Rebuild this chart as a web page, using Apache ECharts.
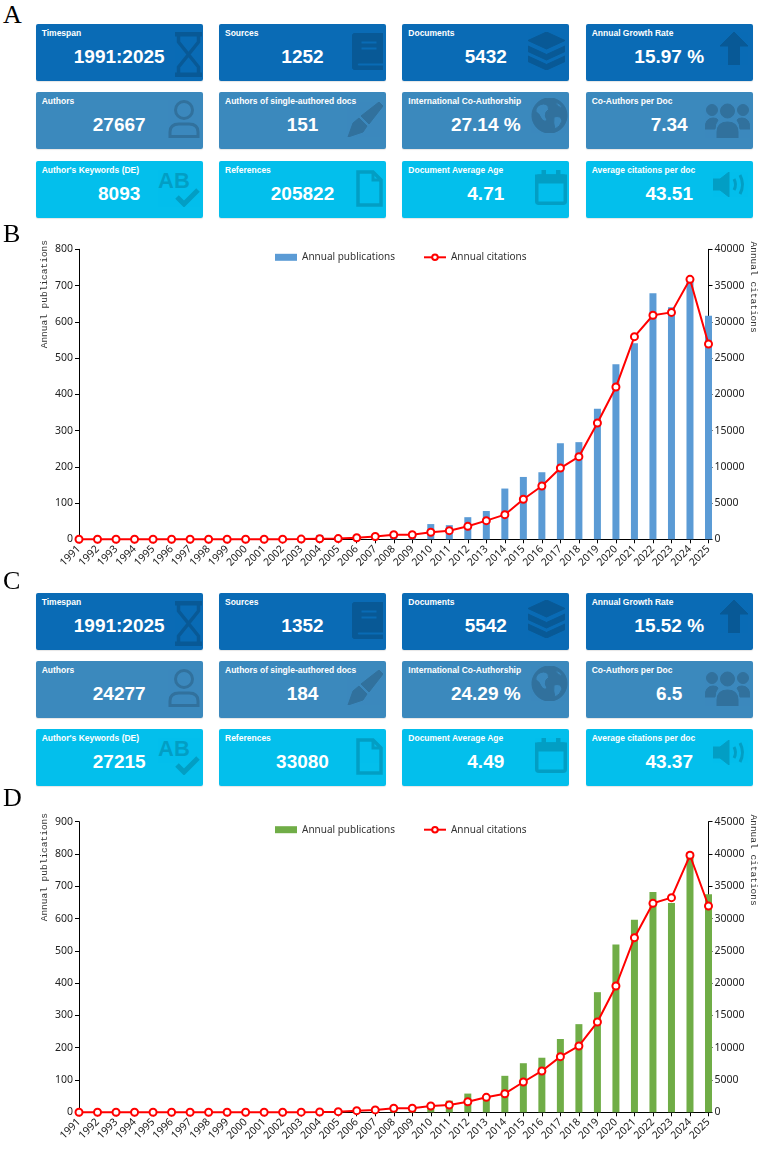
<!DOCTYPE html>
<html>
<head>
<meta charset="utf-8">
<script src="https://cdn.jsdelivr.net/npm/echarts@6/dist/echarts.min.js"></script>
<style>
  html, body { margin: 0; padding: 0; background: #fff; }
  #page { position: relative; width: 767px; height: 1151px; overflow: hidden; }
  .panel { position: absolute; left: 3px; z-index: 10; font-family: "Liberation Serif", serif; font-size: 26px; line-height: 26px; color: #000; }
  .card { position: absolute; width: 167px; height: 57px; border-radius: 2px; color: #fff;
          font-family: "Liberation Sans", Arial, sans-serif; box-shadow: 0 1px 1px rgba(0,0,0,0.1); overflow: hidden; }
  .card .t { position: absolute; left: 6px; top: 4px; font-size: 8.5px; font-weight: bold; white-space: nowrap; }
  .card .v { position: absolute; left: 0; width: 100%; top: 21px; text-align: center; font-size: 19px; font-weight: bold; line-height: 24px; }
  .card svg { position: absolute; }
  .chart { position: absolute; left: 0; width: 767px; }
</style>
</head>
<body>
<div id="page">
  <div class="panel" style="top:2px">A</div>
  <div class="panel" style="top:221px">B</div>
  <div class="panel" style="top:568px">C</div>
  <div class="panel" style="top:785px">D</div>
  <div id="chartB" class="chart" style="top:222px;height:353px"></div>
  <div id="chartD" class="chart" style="top:795px;height:356px"></div>
  <div id="cardsA"></div>
  <div id="cardsC"></div>
</div>
<script>
// ---- data ----
const cardTitles = [
  "Timespan", "Sources", "Documents", "Annual Growth Rate",
  "Authors", "Authors of single-authored docs", "International Co-Authorship", "Co-Authors per Doc",
  "Author's Keywords (DE)", "References", "Document Average Age", "Average citations per doc"
];
const cardValuesA = ["1991:2025", "1252", "5432", "15.97 %", "27667", "151", "27.14 %", "7.34", "8093", "205822", "4.71", "43.51"];
const cardValuesC = ["1991:2025", "1352", "5542", "15.52 %", "24277", "184", "24.29 %", "6.5", "27215", "33080", "4.49", "43.37"];

const years = ["1991", "1992", "1993", "1994", "1995", "1996", "1997", "1998", "1999", "2000",
  "2001", "2002", "2003", "2004", "2005", "2006", "2007", "2008", "2009", "2010",
  "2011", "2012", "2013", "2014", "2015", "2016", "2017", "2018", "2019", "2020",
  "2021", "2022", "2023", "2024", "2025"];

// panel B
const pubsB = [1, 0, 0, 0, 0, 0, 0, 0, 0, 0, 1, 1, 2, 12, 4, 8, 13, 16, 14, 42,
  39, 61, 78, 140, 172, 185, 265, 268, 360, 483, 541, 679, 640, 712, 617];
const citesB = [0, 0, 0, 0, 0, 0, 0, 0, 0, 0, 10, 20, 30, 80, 100, 220, 380, 620, 630, 965,
  1190, 1790, 2570, 3400, 5520, 7350, 9830, 11400, 16040, 21000, 27950, 30900, 31300, 35860, 26940];

// panel D
const pubsD = [0, 0, 0, 0, 0, 0, 0, 0, 0, 0, 0, 1, 1, 1, 2, 7, 8, 11, 10, 19,
  36, 58, 48, 113, 152, 169, 227, 273, 372, 520, 596, 682, 648, 805, 675];
const citesD = [0, 0, 0, 0, 0, 0, 0, 0, 0, 0, 0, 10, 20, 40, 100, 250, 370, 620, 620, 975,
  1130, 1640, 2320, 2880, 4690, 6400, 8620, 10270, 13980, 19560, 27040, 32360, 33240, 39800, 31950];

// ---- info boxes ----
const rowColors = ["#0a6bb5", "#3b89bd", "#03bfec"];
const colX = [35.7, 219, 402.3, 585.7];

// icons: [left, top, w, h, svg body]
const icons = [
  [139, 8, 27, 45, '<rect x="0" y="0" width="27" height="4"/><rect x="0" y="41" width="27" height="4"/><path d="M3.5 4V10L13.5 22.5L3.5 35V41M23.5 4V10L13.5 22.5L23.5 35V41" fill="none" stroke-width="3.5"/>'],
  [132.7, 9, 31, 37, '<path fill-rule="evenodd" d="M4 0H31V30H6A2.5 2.5 0 0 0 6 33H31V37H4A4 4 0 0 1 0 33V4A4 4 0 0 1 4 0ZM9 8H25V11H9ZM9 14H25V17H9Z"/>'],
  [125.4, 7.7, 37, 38, '<path d="M18.5 0L37 8.5L18.5 17L0 8.5ZM0 14L18.5 22.5L37 14V19.5L18.5 28L0 19.5ZM0 24L18.5 32.5L37 24V29.5L18.5 38L0 29.5Z"/>'],
  [134.3, 7.7, 28, 33, '<path d="M14 0L28 14H19.5V33H8.5V14H0Z"/>'],
  [132.3, 7.7, 32, 38, '<circle cx="16" cy="10" r="8.5" fill="none" stroke-width="3"/><path d="M2 36.5V32Q2 24 11 24H21Q30 24 30 32V36.5Z" fill="none" stroke-width="3"/>'],
  [128, 9.4, 36, 35, '<path d="M36 4L32 0L14 14L22 22ZM12 16L20 24L16 30L1 35L6 21Z"/>'],
  [128.4, 5.4, 37, 35, '<path fill-rule="evenodd" d="M18.5 0A17.5 17.5 0 1 1 18.49 0ZM7 8Q13 4 17 8Q19 12 15 14Q13 18 16 22Q13 25 10 20Q8 15 5 14Q4 11 7 8ZM23 19Q30 17 31 23Q29 29 24 31Q22 25 23 19ZM24 4Q29 5 32 10Q27 10 24 4Z"/>'],
  [119.3, 9.4, 45, 36, '<circle cx="22.5" cy="9" r="7"/><path d="M12 36V30Q12 20 22.5 20Q33 20 33 30V36Z"/><circle cx="7" cy="8" r="5.5"/><circle cx="38" cy="8" r="5.5"/><path d="M0 27Q0 16 8 16Q12 16 13 18Q10 22 10 27ZM45 27Q45 16 37 16Q33 16 32 18Q35 22 35 27Z"/>'],
  [122.3, 9.3, 42, 37, '<text x="0" y="18" font-family="Liberation Sans" font-weight="bold" font-size="22" stroke="none">AB</text><polyline points="19,27 26,34 40,20" fill="none" stroke-width="5"/>'],
  [137, 9.3, 27, 37, '<path d="M2 2H17L25 10V35H2Z" fill="none" stroke-width="3.5"/><path d="M17 2V10H25" fill="none" stroke-width="3"/>'],
  [132.7, 9.3, 32, 35, '<rect x="1.75" y="6" width="28.5" height="27.25" rx="2" fill="none" stroke-width="3.5"/><rect x="0" y="5" width="32" height="8"/><rect x="7" y="0" width="3.5" height="8"/><rect x="21.5" y="0" width="3.5" height="8"/>'],
  [127.3, 11, 35, 25, '<path d="M0 7H7L16 0V25L7 18H0Z"/><path d="M21 7Q24 12.5 21 18M27 3Q32 12.5 27 22" fill="none" stroke-width="3"/>']
];

function buildCards(holder, values, rowY) {
  let html = "";
  for (let i = 0; i < 12; i++) {
    const r = Math.floor(i / 4), c = i % 4;
    const ic = icons[i];
    html += '<div class="card" style="left:' + colX[c] + 'px;top:' + rowY[r] + 'px;background:' + rowColors[r] + '">' +
      '<svg style="left:' + ic[0] + 'px;top:' + ic[1] + 'px" width="' + ic[2] + '" height="' + ic[3] + '" viewBox="0 0 ' + ic[2] + ' ' + ic[3] + '">' +
      '<g opacity="0.17" fill="#000" stroke="#000">' + ic[4] + '</g></svg>' +
      '<div class="t">' + cardTitles[i] + '</div><div class="v">' + values[i] + '</div></div>';
  }
  document.getElementById(holder).innerHTML = html;
}

buildCards("cardsA", cardValuesA, [24, 92.3, 160.7]);
buildCards("cardsC", cardValuesC, [592.7, 661, 729]);

// ---- charts ----
const axisFont = "Noto Sans";

function buildChart(domId, pubs, cites, barColor, leftMax, rightMax, gridTop, gridHeight, nameTop) {
  const chart = echarts.init(document.getElementById(domId), null, { renderer: "canvas" });
  const yBase = {
    type: "value",
    min: 0,
    splitLine: { show: false },
    axisLine: { show: true, lineStyle: { color: "#000" } },
    axisTick: { show: true, length: 4, lineStyle: { color: "#000" } },
    axisLabel: { fontSize: 10.5, color: "#222", fontFamily: axisFont, margin: 6, formatter: (v) => String(v) }
  };
  const option = {
    animation: false,
    grid: { left: 79, width: 629.5, top: gridTop, height: gridHeight },
    legend: {
      left: 270,
      top: gridTop - 2,
      itemWidth: 22,
      itemHeight: 7,
      itemGap: 28,
      textStyle: { fontSize: 10, color: "#333", fontFamily: axisFont },
      data: [
        { name: "Annual publications", icon: "rect" },
        { name: "Annual citations" }
      ]
    },
    xAxis: {
      type: "category",
      data: years,
      boundaryGap: false,
      axisLine: { lineStyle: { color: "#000" } },
      axisTick: { show: true, length: 4, lineStyle: { color: "#000" } },
      axisLabel: { rotate: 45, interval: 0, fontSize: 10.5, color: "#222", fontFamily: axisFont, margin: 8 }
    },
    yAxis: [
      Object.assign({}, yBase, { max: leftMax, interval: 100, position: "left" }),
      Object.assign({}, yBase, { max: rightMax, interval: 5000, position: "right" })
    ],
    graphic: [
      {
        type: "text", x: 44, y: nameTop, rotation: Math.PI / 2,
        style: { text: "Annual publications", fill: "#333", font: '9.5px "Liberation Mono"', align: "right", verticalAlign: "middle" }
      },
      {
        type: "text", x: 754, y: nameTop + 1.5, rotation: -Math.PI / 2,
        style: { text: "Annual citations", fill: "#333", font: '9.5px "Liberation Mono"', align: "left", verticalAlign: "middle" }
      }
    ],
    series: [
      {
        name: "Annual publications",
        type: "bar",
        data: pubs,
        yAxisIndex: 0,
        barWidth: 7,
        itemStyle: { color: barColor }
      },
      {
        name: "Annual citations",
        type: "line",
        data: cites,
        yAxisIndex: 1,
        symbol: "circle",
        symbolSize: 7,
        showSymbol: true,
        clip: false,
        z: 3,
        itemStyle: { color: "#fff", borderColor: "#ff0000", borderWidth: 2 },
        lineStyle: { color: "#ff0000", width: 2 }
      }
    ]
  };
  chart.setOption(option);
  return chart;
}

buildChart("chartB", pubsB, citesB, "#5b9bd5", 800, 40000, 27.3, 290, 18);
buildChart("chartD", pubsD, citesD, "#70ad47", 900, 45000, 26.7, 290.6, 18);
</script>
</body>
</html>
